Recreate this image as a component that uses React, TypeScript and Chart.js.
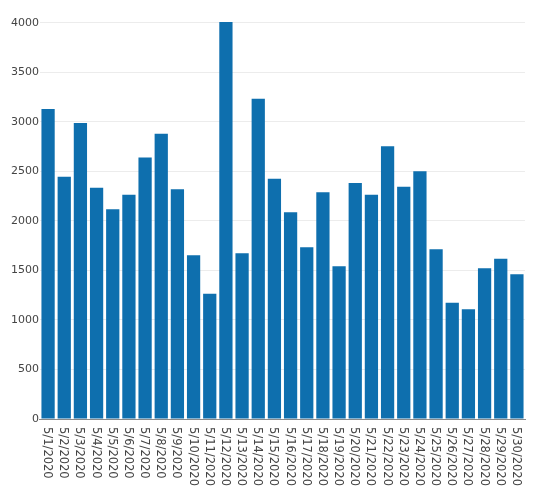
import React, { useEffect, useRef } from "react";
import { Chart, registerables } from "chart.js";

Chart.register(...registerables);

const categories: string[] = [
  "5/1/2020", "5/2/2020", "5/3/2020", "5/4/2020", "5/5/2020", "5/6/2020",
  "5/7/2020", "5/8/2020", "5/9/2020", "5/10/2020", "5/11/2020", "5/12/2020",
  "5/13/2020", "5/14/2020", "5/15/2020", "5/16/2020", "5/17/2020", "5/18/2020",
  "5/19/2020", "5/20/2020", "5/21/2020", "5/22/2020", "5/23/2020", "5/24/2020",
  "5/25/2020", "5/26/2020", "5/27/2020", "5/28/2020", "5/29/2020", "5/30/2020",
];

const values: number[] = [
  3130, 2447, 2990, 2336, 2118, 2266, 2640, 2882, 2320, 1653,
  1266, 4010, 1674, 3235, 2427, 2088, 1734, 2290, 1542, 2384,
  2266, 2754, 2346, 2502, 1714, 1175, 1108, 1522, 1619, 1461,
];

const yTicks: number[] = [0, 500, 1000, 1500, 2000, 2500, 3000, 3500, 4000];

const FONT = "'DejaVu Sans', Verdana, sans-serif";

const verticalLabels = {
  id: "verticalLabels",
  afterDraw(chart: any) {
    const { ctx, chartArea } = chart;
    const xScale = chart.scales.x;
    ctx.save();
    ctx.fillStyle = "#444";
    ctx.font = `11.5px ${FONT}`;
    ctx.textAlign = "left";
    ctx.textBaseline = "middle";
    categories.forEach((label, i) => {
      const x = xScale.getPixelForValue(i);
      ctx.save();
      ctx.translate(x - 1, chartArea.bottom + 8);
      ctx.rotate(Math.PI / 2);
      ctx.fillText(label, 0, 0);
      ctx.restore();
    });
    ctx.restore();
  },
};

export default function App() {
  const ref = useRef<HTMLCanvasElement | null>(null);

  useEffect(() => {
    if (!ref.current) return;
    const chart = new Chart(ref.current, {
      type: "bar",
      data: {
        labels: categories,
        datasets: [
          {
            data: values,
            backgroundColor: "#0e6fae",
            borderWidth: 0,
            categoryPercentage: 1,
            barPercentage: 0.82,
          },
        ],
      },
      options: {
        animation: false,
        responsive: false,
        maintainAspectRatio: false,
        layout: { padding: { left: 10, right: 8, top: 18, bottom: 73 } },
        plugins: {
          legend: { display: false },
          tooltip: { enabled: false },
        },
        scales: {
          x: {
            grid: { display: false },
            border: { display: true, color: "#8a8a8a", width: 1 },
            ticks: { display: false },
          },
          y: {
            min: 0,
            max: 4050,
            afterBuildTicks: (scale: any) => {
              scale.ticks = yTicks.map((v) => ({ value: v }));
            },
            grid: { color: "#ececec", drawTicks: false, lineWidth: 1 },
            border: { display: false },
            ticks: {
              padding: 1,
              color: "#444",
              font: { family: FONT, size: 11 },
              callback: (v: any) => String(v),
            },
          },
        },
      },
      plugins: [verticalLabels],
    });
    return () => chart.destroy();
  }, []);

  return (
    <div style={{ position: "fixed", left: 0, top: 0, width: 533, height: 500, background: "#fff" }}>
      <canvas ref={ref} width={533} height={500} style={{ width: 533, height: 500 }} />
    </div>
  );
}
